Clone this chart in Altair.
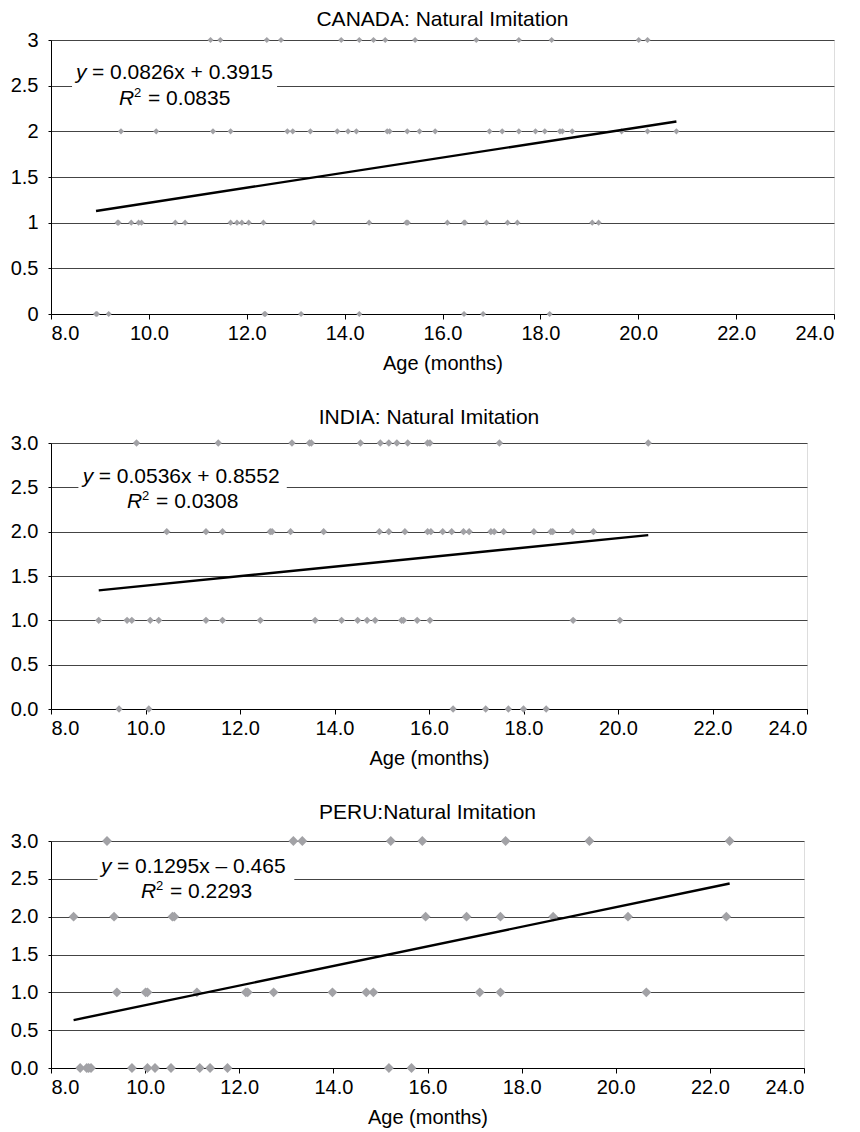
import altair as alt
import pandas as pd

FONT = "Liberation Sans"
FS = 20

# ---------------- data ----------------
canada_3 = [11.26, 11.46, 12.41, 12.70, 13.93, 14.30, 14.59, 14.83, 15.44, 16.69, 17.56, 18.23, 20.01, 20.19]
canada_2 = [9.43, 10.15, 11.31, 11.67, 12.83, 12.94, 13.30, 13.85, 14.07, 14.24, 14.87, 14.92, 15.28, 15.53,
            15.85, 16.96, 17.22, 17.56, 17.90, 18.09, 18.40, 18.45, 18.65, 19.66, 20.19, 20.78]
canada_1 = [9.36, 9.38, 9.64, 9.79, 9.85, 10.54, 10.74, 11.67, 11.80, 11.90, 12.04, 12.34, 13.37, 14.50,
            15.26, 15.29, 16.10, 16.44, 16.46, 16.90, 17.33, 17.53, 19.06, 19.19]
canada_0 = [8.92, 8.94, 9.18, 12.36, 12.38, 13.11, 14.30, 16.44, 16.83, 18.19]

india_3 = [9.81, 11.54, 13.10, 13.47, 13.51, 14.55, 14.97, 15.15, 15.32, 15.55, 15.97, 16.02, 17.49, 20.64]
india_2 = [10.45, 11.28, 11.63, 12.64, 12.68, 13.07, 13.77, 14.95, 15.15, 15.49, 15.97, 16.04, 16.29, 16.48,
           16.73, 16.85, 17.31, 17.38, 17.58, 18.22, 18.58, 18.62, 19.04, 19.48]
india_1 = [9.01, 9.61, 9.71, 10.10, 10.28, 11.28, 11.63, 12.43, 13.59, 14.15, 14.49, 14.69, 14.86, 15.42,
           15.46, 15.75, 16.02, 19.05, 20.04]
india_0 = [9.44, 10.07, 16.51, 17.20, 17.68, 18.00, 18.48]

peru_3 = [9.19, 13.15, 13.34, 15.22, 15.89, 17.66, 19.44, 22.42]
peru_2 = [8.48, 9.34, 10.58, 10.62, 15.96, 16.83, 17.55, 18.67, 20.26, 22.35]
peru_1 = [9.40, 10.01, 10.05, 11.10, 12.14, 12.18, 12.73, 13.98, 14.70, 14.85, 17.11, 17.55, 20.65]
peru_0 = [8.62, 8.76, 8.80, 8.85, 9.72, 10.05, 10.21, 10.55, 11.16, 11.38, 11.75, 15.18, 15.66]

titles = ["CANADA: Natural Imitation", "INDIA: Natural Imitation", "PERU:Natural Imitation"]
slopes = [0.0826, 0.0536, 0.1295]
intercepts = [0.3915, 0.8552, -0.465]
eq_texts = ["= 0.0826x + 0.3915", "= 0.0536x + 0.8552", "= 0.1295x \u2013 0.465"]
r2_texts = ["= 0.0835", "= 0.0308", "= 0.2293"]

x_ticks = [8, 10, 12, 14, 16, 18, 20, 22, 24]
y_ticks = [0, 0.5, 1, 1.5, 2, 2.5, 3]
y_formats = ["", ".1f", ".1f"]

# annotation anchors (data coordinates)
eq_pos = [(8.51, 2.635), (8.67, 2.62), (9.06, 2.66)]
r2_pos = [(9.39, 2.35), (9.61, 2.33), (9.91, 2.32)]
box_x = [(8.43, 12.62), (8.58, 12.99), (8.99, 13.17)]

# layout / style
widths = [783, 756, 753]
heights = [274, 266, 227]
sizes = [38, 54, 98]
title_offsets = [0, 5, 8]

groups = [
    [(3, canada_3), (2, canada_2), (1, canada_1), (0, canada_0)],
    [(3, india_3), (2, india_2), (1, india_1), (0, india_0)],
    [(3, peru_3), (2, peru_2), (1, peru_1), (0, peru_0)],
]


def panel(i):
    rows = []
    for score, ages in groups[i]:
        for a in ages:
            rows.append({"age": a, "score": score})
    df = pd.DataFrame(rows)
    xmin, xmax = df["age"].min(), df["age"].max()
    line_df = pd.DataFrame({
        "age": [xmin, xmax],
        "score": [slopes[i] * xmin + intercepts[i], slopes[i] * xmax + intercepts[i]],
    })

    xs = alt.Scale(domain=[8, 24], nice=False, zero=False)
    ys = alt.Scale(domain=[0, 3], nice=False, zero=False)
    xaxis = alt.Axis(values=x_ticks, format=".1f", title="Age (months)", grid=False,
                     domainColor="black", tickColor="black", tickSize=5, labelPadding=4,
                     labelFontSize=FS, titleFontSize=FS, titleFontWeight="normal",
                     labelFont=FONT, titleFont=FONT, labelColor="black", titleColor="black",
                     titlePadding=10, labelOverlap=False, zindex=0)
    yaxis = alt.Axis(values=y_ticks, format=y_formats[i], title=None, grid=True,
                     gridColor="#444444", gridWidth=1, domainColor="black", tickColor="black",
                     tickSize=3, labelPadding=10, labelFontSize=FS, labelFont=FONT,
                     labelColor="black", labelOverlap=False, zindex=0)

    def X(f):
        return alt.X(f"{f}:Q", scale=xs, axis=xaxis)

    def Y(f):
        return alt.Y(f"{f}:Q", scale=ys, axis=yaxis)

    pts = alt.Chart(df).mark_point(shape="diamond", filled=True, color="#a2a2a6", opacity=1,
                                   size=sizes[i], clip=False).encode(x=X("age"), y=Y("score"))
    line = alt.Chart(line_df).mark_line(color="black", strokeWidth=2.4).encode(
        x=X("age"), y=Y("score"))

    box_df = pd.DataFrame({"x1": [box_x[i][0]], "x2": [box_x[i][1]], "y1": [2.4], "y2": [2.6]})
    box = alt.Chart(box_df).mark_rect(color="white").encode(
        x=X("x1"), x2="x2:Q", y=Y("y1"), y2="y2:Q")

    eq_df = pd.DataFrame({"x": [eq_pos[i][0]], "y": [eq_pos[i][1]], "a": ["y"], "b": [eq_texts[i]]})
    r_df = pd.DataFrame({"x": [r2_pos[i][0]], "y": [r2_pos[i][1]], "a": ["R"], "s": ["2"], "b": [r2_texts[i]]})
    EFS = 21
    tkw = dict(align="left", baseline="middle", font=FONT, fontSize=EFS, color="black")
    t1 = alt.Chart(eq_df).mark_text(fontStyle="italic", **tkw).encode(x=X("x"), y=Y("y"), text="a:N")
    t2 = alt.Chart(eq_df).mark_text(dx=16, **tkw).encode(x=X("x"), y=Y("y"), text="b:N")
    t3 = alt.Chart(r_df).mark_text(fontStyle="italic", **tkw).encode(x=X("x"), y=Y("y"), text="a:N")
    t4 = alt.Chart(r_df).mark_text(dx=15, dy=-6, align="left", baseline="middle", font=FONT,
                                   fontSize=13, color="black").encode(x=X("x"), y=Y("y"), text="s:N")
    t5 = alt.Chart(r_df).mark_text(dx=29, **tkw).encode(x=X("x"), y=Y("y"), text="b:N")

    return alt.layer(pts, box, line, t1, t2, t3, t4, t5).properties(
        width=widths[i], height=heights[i],
        title=alt.TitleParams(titles[i], fontSize=21, fontWeight="normal", font=FONT,
                              color="black", anchor="middle", offset=title_offsets[i]),
    )


chart = alt.vconcat(panel(0), panel(1), panel(2), spacing=32).properties(
    padding={"left": 1, "top": 0, "right": 0, "bottom": 0}
).configure_view(stroke=None).configure(background="white")

chart.save("out.html", embed_options={"renderer": "svg", "actions": False})
